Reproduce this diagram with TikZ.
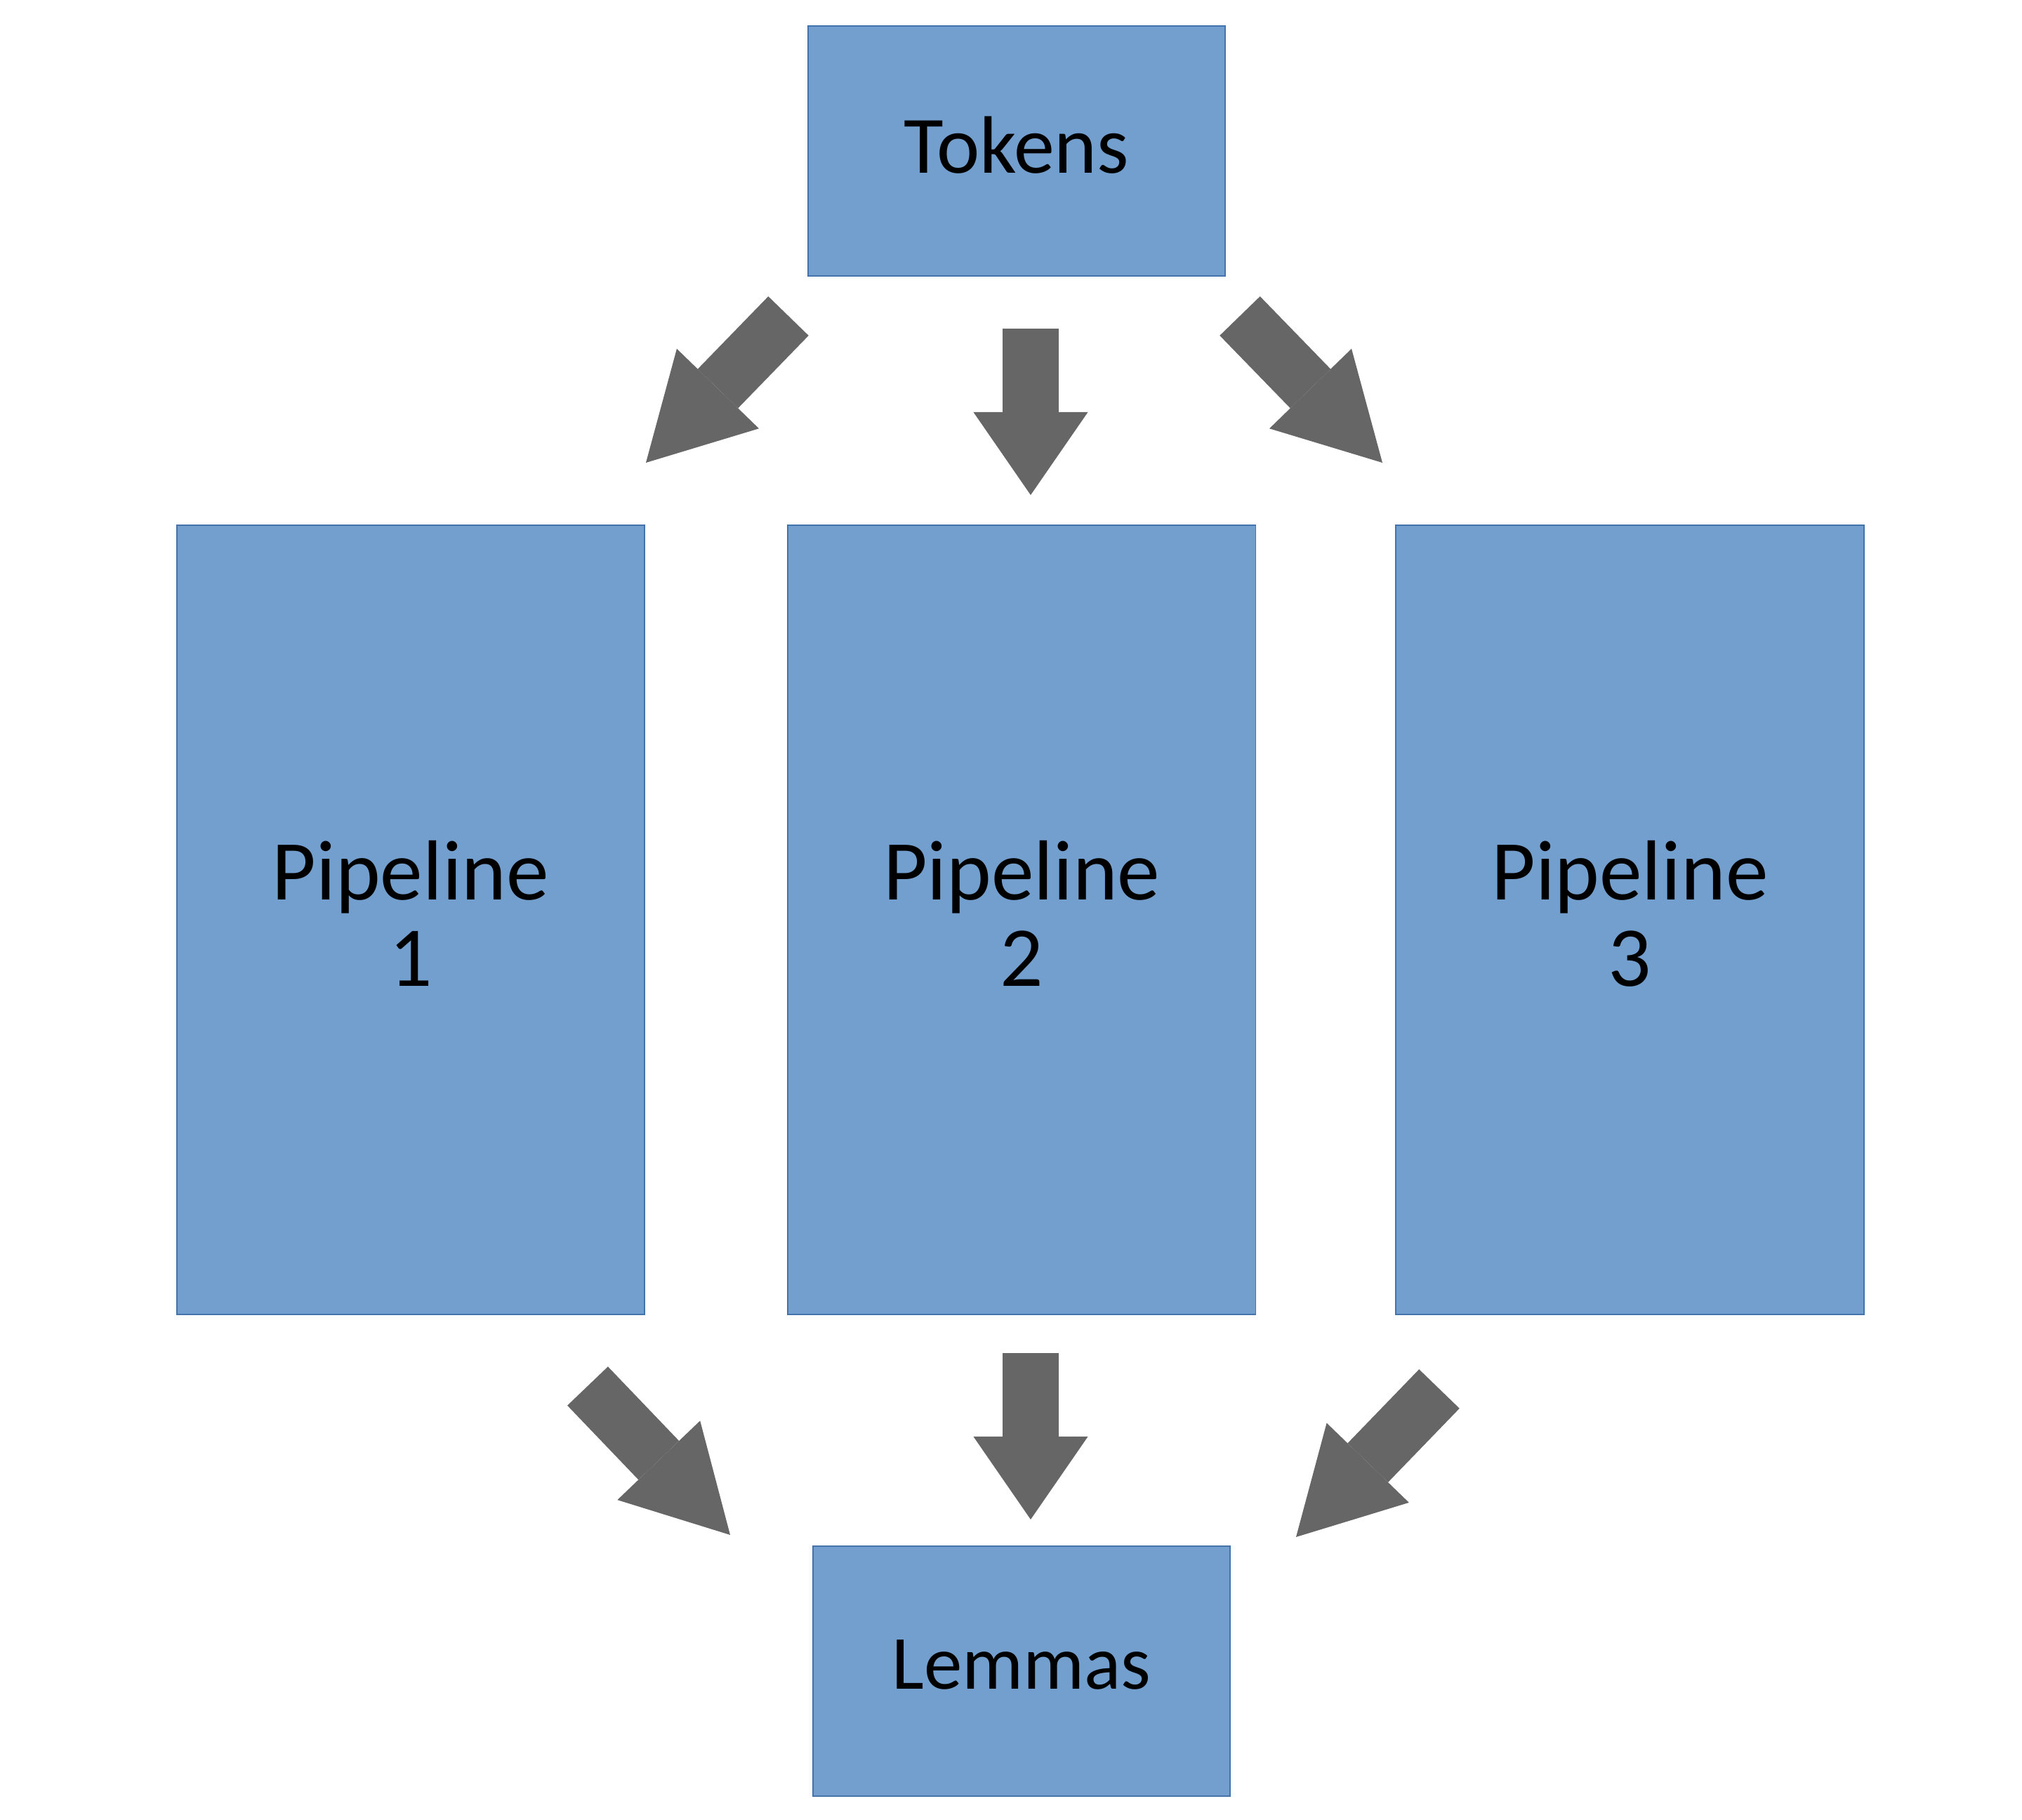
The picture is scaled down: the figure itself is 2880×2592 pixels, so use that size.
\documentclass[tikz,border=0pt]{standalone}
\usepackage{fontspec}
\setmainfont{Carlito}
\usetikzlibrary{arrows.meta,positioning}
\definecolor{BoxBlue}{RGB}{115,159,206}
\definecolor{BoxEdge}{RGB}{68,114,170}
\definecolor{ArrowGray}{RGB}{102,102,102}

\begin{document}
\begin{tikzpicture}[x=0.01cm,y=-0.01cm,
    stage/.style={rectangle,fill=BoxBlue,draw=BoxEdge,line width=0.5pt,align=center,
      minimum width=5.93cm,minimum height=3.56cm,text depth=0.18cm,
      font=\fontsize{31}{35}\selectfont},
    pipe/.style={rectangle,fill=BoxBlue,draw=BoxEdge,line width=0.5pt,align=center,
      minimum width=6.66cm,minimum height=11.23cm,
      font=\fontsize{34.5}{35}\selectfont},
    fatarrow/.style={ArrowGray,line width=0.8cm,
      -{Triangle[length=#1,width=1.63cm,line width=0pt]}}]
  \useasboundingbox (0,0) rectangle (2880,2592);
  % boxes
  \node[stage,font=\fontsize{33}{35}\selectfont] (tokens) at (1448,215) {Tokens};
  \node[pipe] (pipe1) at (585,1310) {Pipeline\\1\rule[-0.18cm]{0pt}{0pt}};
  \node[pipe,right=2.02cm of pipe1] (pipe2) {Pipeline\\2\rule[-0.18cm]{0pt}{0pt}};
  \node[pipe,right=1.98cm of pipe2] (pipe3) {Pipeline\\3\rule[-0.18cm]{0pt}{0pt}};
  \node[stage] (lemmas) at (1455,2380) {Lemmas};
  % arrow ends
  \coordinate (in1) at (1123,450);  \coordinate (in1t) at (920,659);
  \coordinate (in2) at (1468,468);  \coordinate (in2t) at (1468,705);
  \coordinate (in3) at (1766,450);  \coordinate (in3t) at (1969,659);
  \coordinate (out1) at (837,1974); \coordinate (out1t) at (1040,2186);
  \coordinate (out2) at (1468,1927); \coordinate (out2t) at (1468,2164);
  \coordinate (out3) at (2050,1978); \coordinate (out3t) at (1846,2189);
  % block arrows
  \draw[fatarrow=1.47cm] (in1) -- (in1t);
  \draw[fatarrow=1.18cm] (in2) -- (in2t);
  \draw[fatarrow=1.47cm] (in3) -- (in3t);
  \draw[fatarrow=1.47cm] (out1) -- (out1t);
  \draw[fatarrow=1.18cm] (out2) -- (out2t);
  \draw[fatarrow=1.47cm] (out3) -- (out3t);
\end{tikzpicture}
\end{document}
